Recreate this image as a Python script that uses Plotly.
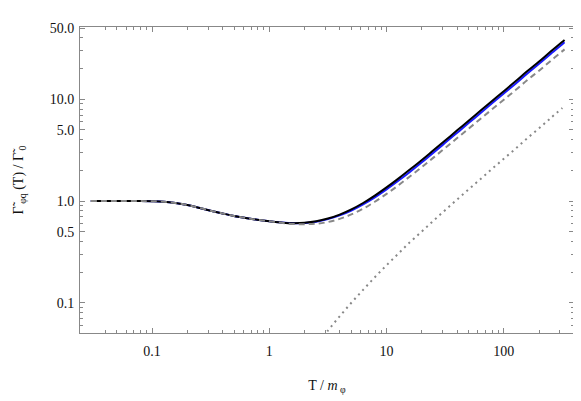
import plotly.graph_objects as go

# Temperature grid T / m_phi
T = [0.03, 0.05, 0.08, 0.1, 0.126, 0.158, 0.2, 0.25, 0.316, 0.4, 0.5, 0.63, 0.79,
     1.0, 1.26, 1.58, 2.0, 2.51, 3.16, 3.98, 5.01, 6.31, 7.94, 10, 12.6, 15.8, 20,
     25.1, 31.6, 39.8, 50.1, 63.1, 79.4, 100, 126, 158, 200, 251, 316, 330]

# black solid curve
rate_full = [1.0, 1.0, 0.999, 0.995, 0.984, 0.955, 0.912, 0.859, 0.804, 0.755, 0.714, 0.681, 0.653,
             0.631, 0.615, 0.605, 0.611, 0.632, 0.673, 0.736, 0.828, 0.956, 1.13, 1.36, 1.66, 2.04, 2.53,
             3.15, 3.93, 4.92, 6.15, 7.69, 9.62, 12.0, 15.0, 18.8, 23.5, 29.4, 36.7, 38.3]

# blue solid curve
rate_blue = [1.0, 1.0, 0.999, 0.995, 0.984, 0.955, 0.912, 0.859, 0.804, 0.755, 0.714, 0.681, 0.653,
             0.631, 0.615, 0.605, 0.608, 0.626, 0.664, 0.723, 0.807, 0.926, 1.087, 1.30, 1.58, 1.93, 2.40,
             2.99, 3.73, 4.66, 5.83, 7.29, 9.12, 11.4, 14.2, 17.8, 22.3, 27.9, 34.8, 36.3]

# gray dashed curve
rate_dash = [1.0, 1.0, 0.999, 0.995, 0.984, 0.955, 0.912, 0.859, 0.804, 0.755, 0.714, 0.681, 0.653,
             0.631, 0.611, 0.595, 0.592, 0.598, 0.622, 0.667, 0.738, 0.840, 0.984, 1.174, 1.426, 1.744, 2.153,
             2.668, 3.317, 4.133, 5.141, 6.398, 7.965, 9.89, 12.3, 15.36, 19.1, 23.8, 29.7, 30.9]

# gray dotted curve
T_dot = [2.51, 3.16, 3.98, 5.01, 6.31, 7.94, 10, 12.6, 15.8, 20, 25.1, 31.6, 39.8,
         50.1, 63.1, 79.4, 100, 126, 158, 200, 251, 316]
rate_dot = [0.0377, 0.0532, 0.0736, 0.100, 0.134, 0.178, 0.234, 0.304, 0.393, 0.502, 0.640, 0.813, 1.03,
            1.30, 1.64, 2.07, 2.60, 3.27, 4.12, 5.19, 6.53, 8.22]

x_ticks = [0.1, 1, 10, 100]
x_labels = ["0.1", "1", "10", "100"]
x_minor = [0.04, 0.05, 0.06, 0.07, 0.08, 0.09, 0.2, 0.3, 0.4, 0.5, 0.6, 0.7, 0.8, 0.9,
           2, 3, 4, 5, 6, 7, 8, 9, 20, 30, 40, 50, 60, 70, 80, 90, 200, 300]
y_ticks = [0.1, 0.5, 1, 5, 10, 50]
y_labels = ["0.1", "0.5", "1.0", "5.0", "10.0", "50.0"]
y_minor = [0.06, 0.07, 0.08, 0.09, 0.2, 0.3, 0.4, 0.6, 0.7, 0.8, 0.9,
           2, 3, 4, 6, 7, 8, 9, 20, 30, 40]

fig = go.Figure()
fig.add_trace(go.Scatter(x=T, y=rate_blue, mode="lines", line=dict(color="#1a1aff", width=2, shape="spline")))
fig.add_trace(go.Scatter(x=T, y=rate_full, mode="lines", line=dict(color="black", width=2, shape="spline")))
fig.add_trace(go.Scatter(x=T, y=rate_dash, mode="lines",
                         line=dict(color="#888888", width=2, dash="6px,4px", shape="spline")))
fig.add_trace(go.Scatter(x=T_dot, y=rate_dot, mode="lines",
                         line=dict(color="#888888", width=2, dash="2px,4px", shape="spline")))

font = dict(family="Liberation Serif, Times New Roman, serif", size=14, color="#111111")

axis_common = dict(type="log", showgrid=False, zeroline=False, showline=True, linecolor="#888888",
                   linewidth=1, mirror="allticks", ticks="inside", ticklen=5, tickcolor="#888888",
                   tickfont=font, automargin=False)

fig.update_xaxes(range=[-1.615, 2.599], tickmode="array", tickvals=x_ticks, ticktext=x_labels,
                 ticklabelstandoff=5,
                 minor=dict(tickmode="array", tickvals=x_minor, ticks="inside", ticklen=3,
                            tickcolor="#888888", showgrid=False),
                 title=dict(text="T / <i>m</i><sub> φ</sub>", font=font, standoff=22), **axis_common)
fig.update_yaxes(range=[-1.297, 1.71], tickmode="array", tickvals=y_ticks, ticktext=y_labels,
                 ticklabelstandoff=2,
                 minor=dict(tickmode="array", tickvals=y_minor, ticks="inside", ticklen=3,
                            tickcolor="#888888", showgrid=False),
                 title=dict(text="Γ̃<sub> φq</sub> (T) / Γ̃<sub> 0</sub>", font=font, standoff=22),
                 **axis_common)

# the page body adds an 8px offset, so the figure is sized to the remaining window
fig.update_layout(width=573, height=393, margin=dict(l=72, r=7, t=19, b=68),
                  plot_bgcolor="white", paper_bgcolor="white", showlegend=False, font=font)

fig.write_html("out.html")
